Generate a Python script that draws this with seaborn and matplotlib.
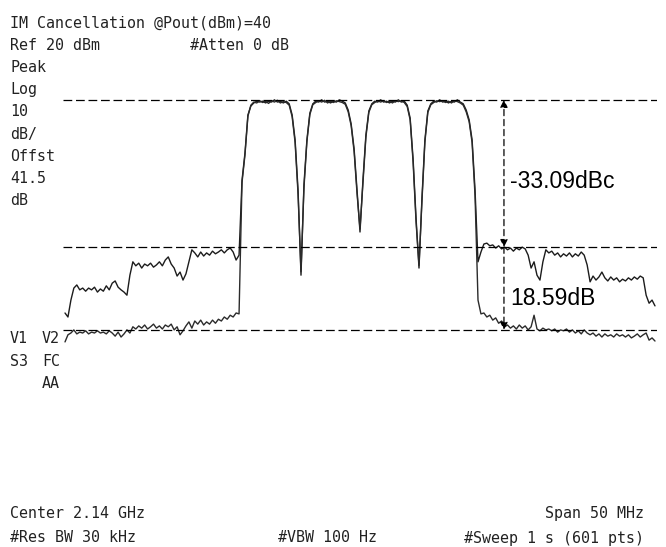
import numpy as np
import pandas as pd
import matplotlib
matplotlib.use("Agg")
import matplotlib.pyplot as plt
import seaborn as sns

# spectrum analyzer screen, 4 carriers, trace before / after IM cancellation
W, H = 666, 547
STEP_MHZ = 0.25

# -25 .. -10.25 MHz
left_before = [
    -39.1, -40.0, -36.2, -33.5, -32.8, -33.9, -33.5, -34.2, -33.5, -33.9,
    -33.3, -34.4, -33.7, -34.2, -33.0, -33.9, -32.4, -31.9, -33.3, -33.9,
    -34.4, -35.1, -30.6, -27.6, -28.5, -27.9, -29.0, -28.1, -28.5, -27.9,
    -28.8, -28.3, -27.6, -28.5, -27.2, -26.5, -28.1, -29.0, -30.8, -29.9,
    -31.7, -30.3, -27.6, -24.9, -25.6, -26.5, -25.4, -26.3, -25.6, -26.1,
    -25.2, -25.8, -25.4, -24.9, -25.6, -24.9, -24.5, -25.4, -27.2, -26.1,
]
left_after = [
    -45.6, -44.0, -43.6, -42.9, -43.8, -43.4, -43.6, -43.1, -43.8, -43.4,
    -43.6, -43.1, -43.6, -43.4, -43.8, -43.1, -43.6, -44.3, -43.4, -44.5,
    -43.8, -42.9, -43.6, -42.2, -42.7, -42.0, -42.5, -41.8, -42.7, -42.2,
    -41.6, -42.5, -42.0, -42.7, -41.8, -42.2, -41.6, -42.9, -42.2, -44.0,
    -43.1, -42.0, -41.1, -42.5, -40.9, -41.6, -40.7, -41.8, -41.1, -41.6,
    -40.7, -41.4, -40.5, -40.9, -40.0, -40.5, -39.6, -40.0, -39.1, -39.3,
]
# -10 .. 9.75 MHz (the four carriers)
inband_before = [
    -9.3, -3.2, 5.4, 7.4, 8.1, 8.5, 8.3, 8.5, 8.1, 8.5,
    8.3, 8.8, 8.3, 8.5, 8.1, 8.5, 7.9, 5.4, -0.2, -11.5,
    -30.6, -10.3, -0.2, 5.8, 7.9, 8.5, 8.3, 8.8, 8.3, 8.5,
    8.1, 8.5, 8.3, 8.8, 8.5, 8.1, 6.5, 3.4, -2.2, -11.5,
    -20.9, -9.2, 0.9, 6.3, 7.9, 8.5, 8.3, 8.8, 8.3, 8.5,
    8.1, 8.5, 8.3, 8.8, 8.3, 8.5, 7.6, 4.7, -4.5, -17.8,
    -29.0, -13.3, -0.2, 6.3, 7.9, 8.5, 8.3, 8.8, 8.3, 8.5,
    8.1, 8.5, 8.3, 8.8, 8.3, 7.9, 6.5, 4.3, -0.2, -11.5,
]
inband_after = [
    -9.8, -3.6, 5.1, 7.6, 8.3, 8.1, 8.6, 8.2, 8.5, 8.0,
    8.6, 8.3, 8.7, 8.1, 8.4, 8.2, 7.6, 5.0, -0.8, -12.4,
    -29.8, -11.0, -0.6, 5.5, 7.7, 8.2, 8.6, 8.3, 8.7, 8.1,
    8.5, 8.2, 8.6, 8.4, 8.2, 7.8, 6.1, 3.0, -2.8, -12.3,
    -20.2, -9.8, 0.4, 6.0, 7.7, 8.2, 8.6, 8.3, 8.6, 8.2,
    8.5, 8.1, 8.6, 8.4, 8.6, 8.2, 7.3, 4.3, -5.2, -18.6,
    -28.4, -14.0, -0.7, 6.0, 7.7, 8.2, 8.6, 8.4, 8.6, 8.2,
    8.5, 8.1, 8.6, 8.4, 8.1, 7.6, 6.1, 3.9, -0.8, -12.8,
]
# 10 .. 25 MHz
right_before = [
    -27.6, -25.4, -23.6, -23.4, -24.0, -23.8, -24.5, -24.0, -24.7, -24.3,
    -24.9, -24.5, -25.2, -24.5, -24.9, -24.3, -24.7, -26.1, -29.0, -27.6,
    -30.6, -31.7, -27.6, -24.9, -25.6, -25.2, -26.1, -25.6, -26.5, -25.8,
    -26.3, -25.6, -26.5, -25.8, -26.3, -25.4, -26.1, -28.3, -32.1, -30.8,
    -31.7, -31.0, -29.9, -31.2, -31.9, -31.0, -31.7, -31.2, -32.1, -31.5,
    -31.9, -31.2, -31.7, -31.0, -31.5, -30.8, -31.2, -35.1, -36.9, -36.2,
    -37.5,
]
right_after = [
    -36.2, -39.3, -39.1, -40.0, -39.6, -40.7, -40.2, -41.4, -40.9, -42.2,
    -41.8, -42.5, -42.0, -42.7, -41.8, -42.5, -42.0, -42.9, -42.2, -39.6,
    -42.7, -43.1, -42.5, -42.9, -42.7, -43.1, -42.7, -43.4, -42.9, -43.1,
    -42.7, -43.4, -42.9, -43.6, -43.1, -43.8, -42.9, -43.6, -44.0, -43.6,
    -44.3, -43.8, -44.5, -43.8, -44.3, -44.0, -44.5, -43.8, -44.3, -44.0,
    -44.5, -44.0, -44.7, -44.3, -43.8, -44.5, -44.0, -43.6, -45.2, -44.7,
    -45.4,
]

carrier_dbm = 8.8
acpr_dbc = -33.09
cancel_db = 18.59
marker_mhz = 12.2

left_labels = ["Peak", "Log", "10", "dB/", "Offst", "41.5", "dB"]

sns.set_style("white")
plt.rcParams["font.family"] = ["DejaVu Sans Mono", "DejaVu Sans"]

freq = np.arange(-25, 25 + STEP_MHZ / 2, STEP_MHZ)
before = left_before + inband_before + right_before
after = left_after + inband_after + right_after
df = pd.DataFrame({
    "freq_mhz": np.concatenate([freq, freq]),
    "level_dbm": before + after,
    "trace": ["before"] * len(freq) + ["after"] * len(freq),
})

fig = plt.figure(figsize=(W / 100, H / 100), dpi=100)
ax = fig.add_axes([63 / W, 1 - 495 / H, 594 / W, 445 / H])
sns.lineplot(data=df, x="freq_mhz", y="level_dbm", hue="trace",
             palette=["#1c1c1c", "#2b2b2b"], estimator=None, sort=False,
             legend=False, linewidth=1.0, ax=ax)
ax.set_xlim(-25.17, 25.17)
ax.set_ylim(-80, 20)
ax.set_axis_off()

# marker lines
upper_level = carrier_dbm + acpr_dbc
lower_level = upper_level - cancel_db
for lvl in [carrier_dbm, upper_level, lower_level]:
    ax.axhline(lvl, color="black", lw=0.9, ls=(0, (7, 3)))

ax.annotate("", xy=(marker_mhz, carrier_dbm), xytext=(marker_mhz, upper_level),
            arrowprops=dict(arrowstyle="<|-|>", ls=(0, (5, 3)), lw=0.9, color="black",
                            mutation_scale=11, shrinkA=0, shrinkB=0))
ax.annotate("", xy=(marker_mhz, lower_level), xytext=(marker_mhz, upper_level),
            arrowprops=dict(arrowstyle="-|>", ls=(0, (5, 3)), lw=0.9, color="black",
                            mutation_scale=11, shrinkA=0, shrinkB=0))
ax.text(12.7, -10.9, f"{acpr_dbc:.2f}dBc", family="Liberation Sans", fontsize=16.5,
        color="black", va="baseline", ha="left")
ax.text(12.7, -37.3, f"{cancel_db:.2f}dB", family="Liberation Sans", fontsize=16.5,
        color="black", va="baseline", ha="left")


def put(x, y, s, ha="left"):
    fig.text(x / W, 1 - y / H, s, fontsize=10.8, color="#222222", va="baseline", ha=ha)


put(10, 27, "IM Cancellation @Pout(dBm)=40")
put(10, 49.5, "Ref 20 dBm")
put(190, 49.5, "#Atten 0 dB")
for i, lab in enumerate(left_labels):
    put(10, 71.6 + 22.3 * i, lab)
put(10, 343, "V1")
put(42, 343, "V2")
put(10, 366, "S3")
put(42, 366, "FC")
put(42, 388, "AA")

put(10, 518, "Center 2.14 GHz")
put(10, 542.5, "#Res BW 30 kHz")
put(278, 542.5, "#VBW 100 Hz")
put(644, 518, "Span 50 MHz", ha="right")
put(644, 542.5, "#Sweep 1 s (601 pts)", ha="right")

plt.savefig("out.png", dpi=100)
plt.close()
